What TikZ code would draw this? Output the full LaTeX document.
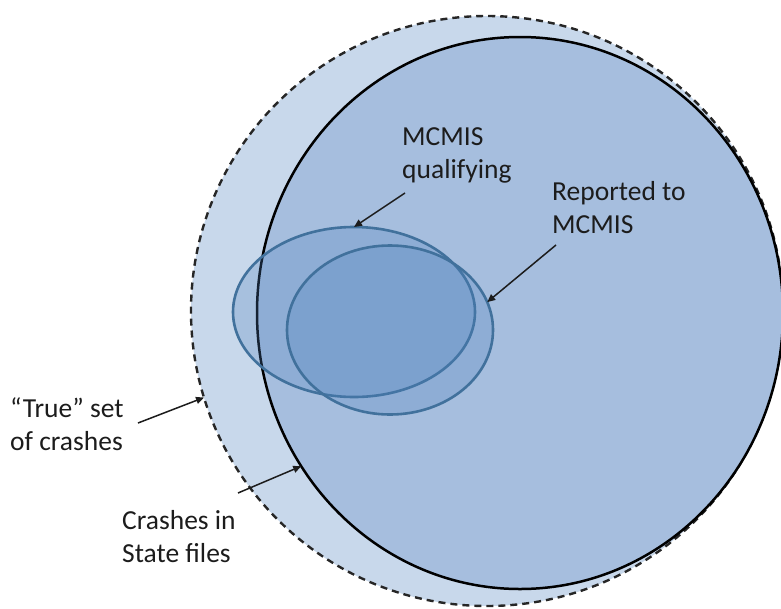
\documentclass[tikz,border=0pt]{standalone}
\usepackage{fontspec}
\setmainfont{Carlito}
\usetikzlibrary{shapes.geometric,arrows.meta}

\definecolor{outerfill}{HTML}{C8D8EB}
\definecolor{statefill}{HTML}{A6BEDE}
\definecolor{setblue}{HTML}{4F81BD}
\definecolor{setedge}{HTML}{41719C}
\definecolor{inkgray}{HTML}{1C1C1C}

\begin{document}
\begin{tikzpicture}[x=1pt,y=-1pt,
  region/.style={ellipse, inner sep=0pt, outer sep=0pt},
  subset/.style={region, fill=setblue, fill opacity=0.27, draw=setedge,
    draw opacity=1, line width=2.6pt},
  lbl/.style={anchor=base west, align=left, inner sep=0pt,
    font=\fontsize{27.5}{33}\selectfont, text=inkgray},
  pointer/.style={draw=inkgray, line width=1.5pt,
    -{Triangle[length=8pt,width=7pt]}}]

\useasboundingbox (0,0) rectangle (781,608);
\clip (0,0) rectangle (781,608);

% all crashes (dashed) and crashes found in state files (solid)
\node[region, minimum width=592pt, minimum height=590pt, fill=outerfill,
  draw=black!85, line width=2.4pt, dash pattern=on 7pt off 5pt] (truth) at (487,311) {};
\node[region, minimum width=526pt, minimum height=552pt, fill=statefill,
  draw=black, line width=2.5pt] (state) at (520,313) {};

% MCMIS subsets
\node[subset, minimum width=242pt, minimum height=170pt] (qual) at (354,312) {};
\node[subset, minimum width=206pt, minimum height=169pt] (rep) at (390,330) {};

% labels (anchored on the baseline of their last line)
\node[lbl] (truetext) at (10,450) {“True” set\\of crashes};
\node[lbl] (statetext) at (122,562) {Crashes in\\State files};
\node[lbl] (qualtext) at (402,178) {MCMIS\\qualifying};
\node[lbl] (reptext) at (552,233) {Reported to\\MCMIS};

% pointers
\coordinate (truetail) at (138,423);
\coordinate (statetail) at (238,493);
\coordinate (qualtail) at (405,193);
\coordinate (reptail) at (556,245);
\draw[pointer] (truetail) -- (truth.197);
\draw[pointer] (statetail) -- (state.215);
\draw[pointer] (qualtail) -- (qual.90);
\draw[pointer] (reptail) -- (rep.16);
\end{tikzpicture}
\end{document}
